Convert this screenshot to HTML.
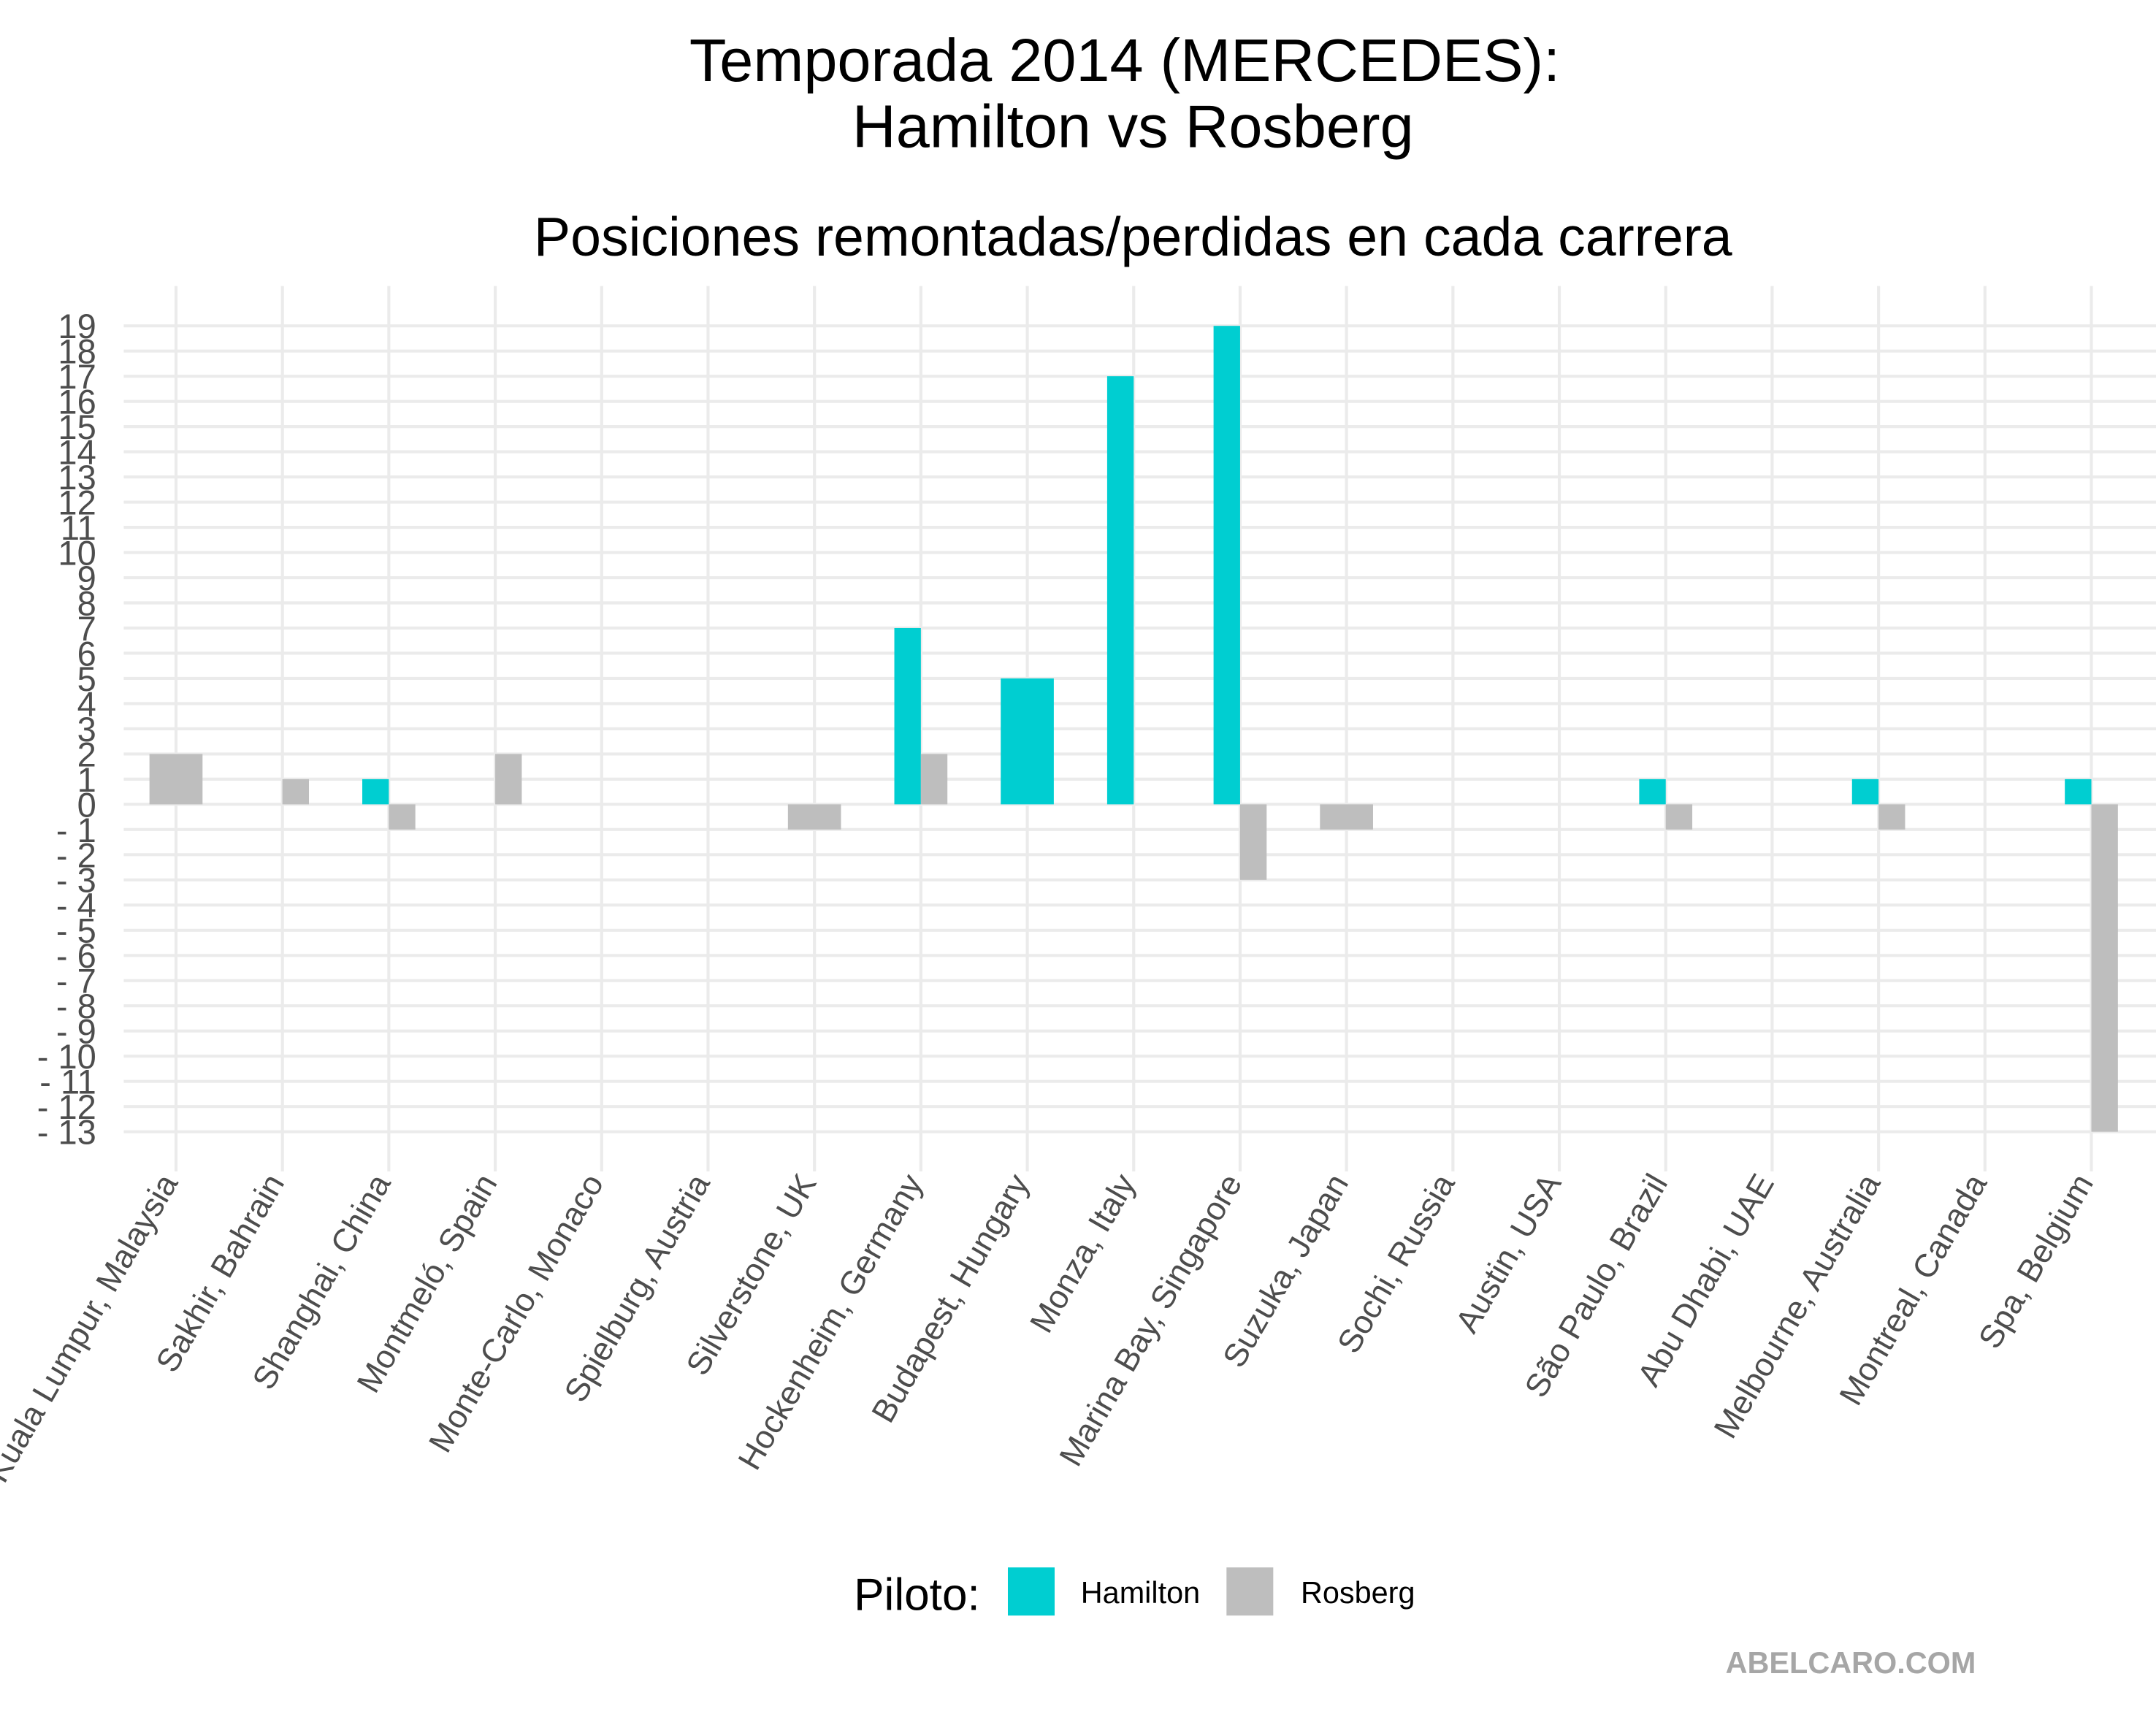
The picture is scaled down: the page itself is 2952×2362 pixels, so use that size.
<!DOCTYPE html>
<html><head><meta charset="utf-8"><style>
html,body{margin:0;padding:0;background:#fff;}
svg{display:block;}
text{font-family:"Liberation Sans",Arial,sans-serif;}
</style></head><body>
<svg width="2952" height="2362" viewBox="0 0 1568 1254.6" preserveAspectRatio="none" xmlns="http://www.w3.org/2000/svg">
<rect width="1568" height="1254.6" fill="#fff"/>
<text x="818" y="59" font-size="44" text-anchor="middle" fill="#000">Temporada 2014 (MERCEDES):</text>
<text x="824" y="107" font-size="44" text-anchor="middle" fill="#000">Hamilton vs Rosberg</text>
<text x="824" y="186" font-size="40" text-anchor="middle" fill="#000">Posiciones remontadas/perdidas en cada carrera</text>
<g id="grid" stroke="#ebebeb" stroke-width="2.2"></g>
<g id="bars"></g>
<g id="ylab" fill="#4d4d4d" font-size="25" text-anchor="end"></g>
<g id="xlab" fill="#4d4d4d" font-size="23.8" text-anchor="end"></g>
<text x="621" y="1171" font-size="33" fill="#000">Piloto:</text>
<rect x="733" y="1140" width="34" height="35" fill="#00CED1"/>
<text x="786" y="1166" font-size="22" fill="#000">Hamilton</text>
<rect x="892" y="1140" width="34" height="35" fill="#BEBEBE"/>
<text x="946" y="1166" font-size="22" fill="#000">Rosberg</text>
<text x="1437" y="1217" font-size="22" font-weight="bold" text-anchor="end" fill="#a6a6a6">ABELCARO.COM</text>
<script>
var ns="http://www.w3.org/2000/svg";
function el(p,t,a,txt){var e=document.createElementNS(ns,t);for(var k in a)e.setAttribute(k,a[k]);if(txt!==undefined)e.textContent=txt;document.getElementById(p).appendChild(e);return e;}
var names=["Kuala Lumpur, Malaysia","Sakhir, Bahrain","Shanghai, China","Montmeló, Spain","Monte-Carlo, Monaco","Spielburg, Austria","Silverstone, UK","Hockenheim, Germany","Budapest, Hungary","Monza, Italy","Marina Bay, Singapore","Suzuka, Japan","Sochi, Russia","Austin, USA","São Paulo, Brazil","Abu Dhabi, UAE","Melbourne, Australia","Montreal, Canada","Spa, Belgium"];
var x0=128,dx=(1521-128)/18;
function X(i){return x0+i*dx;}
var y0=585,u=(585-237)/19;
function Y(v){return y0-v*u;}
for(var v=-13;v<=19;v++){el("grid","line",{x1:90,x2:1568,y1:Y(v),y2:Y(v)});el("ylab","text",{x:70,y:Y(v)+9},String(v).replace("-","- "));}
for(var i=0;i<19;i++){el("grid","line",{x1:X(i),x2:X(i),y1:208,y2:852});
 el("xlab","text",{transform:"translate("+(X(i)+2)+",860) rotate(-60)"},names[i]);}
var d=[[null,2],[0,1],[1,-1],[0,2],[0,0],[0,0],[null,-1],[7,2],[5,null],[17,0],[19,-3],[null,-1],[0,0],[0,0],[1,-1],[0,0],[1,-1],[0,0],[1,-13]];
var w=19.3;
function bar(x,wd,v,c){if(!v)return;var a=Math.min(Y(v),y0),b=Math.max(Y(v),y0);el("bars","rect",{x:x,y:a,width:wd,height:b-a,fill:c});}
for(var i=0;i<19;i++){var h=d[i][0],r=d[i][1],cx=X(i);
 if(h===null){bar(cx-w,2*w,r,"#BEBEBE");}
 else if(r===null){bar(cx-w,2*w,h,"#00CED1");}
 else{bar(cx-w,w,h,"#00CED1");bar(cx,w,r,"#BEBEBE");}}
</script>
</svg>
</body></html>
